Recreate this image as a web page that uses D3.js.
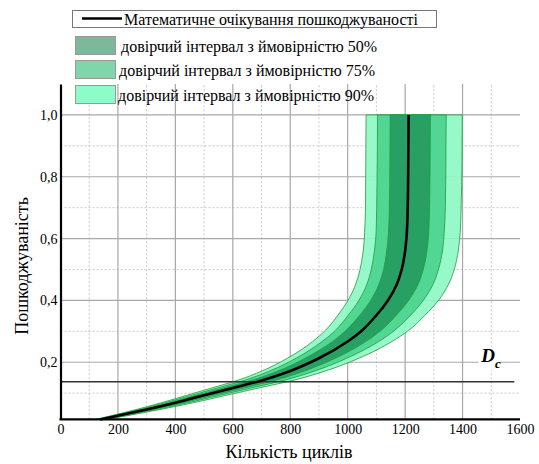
<!DOCTYPE html>
<html>
<head>
<meta charset="utf-8">
<script src="https://cdn.jsdelivr.net/npm/d3@7/dist/d3.min.js"></script>
<style>
  html, body { margin: 0; padding: 0; background: #fff; }
  svg { display: block; }
  svg text { font-family: "Liberation Serif", "Times New Roman", "DejaVu Serif", serif; }
</style>
</head>
<body>
<svg id="chart" width="539" height="464"></svg>
<script>
// Damage levels (y) at which the cycle counts of each curve are tabulated
const damageLevels = [0.015, 0.027, 0.047, 0.069, 0.093, 0.117, 0.141, 0.172, 0.213, 0.267,
                      0.303, 0.352, 0.40, 0.45, 0.50, 0.56, 0.62, 0.70, 0.85, 1.0];
// Expected damage curve: number of cycles at each damage level
const meanCycles = [138, 200, 300, 400, 500, 600, 700, 800, 900, 1000,
                    1050, 1100, 1140, 1170, 1188, 1200, 1206, 1209, 1211, 1212];
// Confidence interval bounds (cycles)
const lower50 = [131, 189, 284, 379, 474, 568, 663, 758, 852, 947, 994, 1042, 1080, 1108, 1125, 1136, 1142, 1145, 1147, 1148];
const upper50 = [147, 213, 319, 425, 532, 638, 744, 850, 957, 1063, 1116, 1169, 1212, 1244, 1263, 1276, 1282, 1285, 1287, 1288];
const lower75 = [126, 182, 273, 364, 456, 547, 638, 729, 820, 911, 957, 1002, 1039, 1066, 1082, 1093, 1099, 1101, 1103, 1104];
const upper75 = [153, 222, 332, 443, 554, 665, 776, 886, 997, 1108, 1163, 1219, 1263, 1296, 1316, 1330, 1336, 1340, 1342, 1343];
const lower90 = [121, 176, 263, 351, 439, 527, 615, 702, 790, 878, 922, 966, 1001, 1027, 1043, 1054, 1059, 1062, 1063, 1064];
const upper90 = [159, 231, 346, 462, 577, 692, 808, 923, 1039, 1154, 1212, 1269, 1316, 1350, 1371, 1385, 1392, 1395, 1398, 1399];

// Critical damage level
const criticalDamage = 0.137;

// Axis ticks
const xTicks = [0, 200, 400, 600, 800, 1000, 1200, 1400, 1600];
const xMinorTicks = [100, 300, 500, 700, 900, 1100, 1300, 1500];
const yTicks = [0.2, 0.4, 0.6, 0.8, 1.0];
const yMinorTicks = [0.1, 0.3, 0.5, 0.7, 0.9];

const xTitle = "Кількість циклів";
const yTitle = "Пошкоджуваність";
const meanLabel = "Математичне очікування пошкоджуваності";
const bandLabels = ["довірчий інтервал з ймовірністю 50%",
                    "довірчий інтервал з ймовірністю 75%",
                    "довірчий інтервал з ймовірністю 90%"];

const SERIF = "Liberation Serif";
const svg = d3.select("#chart");

const x = d3.scaleLinear().domain([0, 1600]).range([60.5, 520]);
const y = d3.scaleLinear().domain([0.0155, 1.1]).range([419.3, 84]);

// Grid
const grid = svg.append("g");
grid.selectAll("line.xmin").data(xMinorTicks).join("line")
  .attr("x1", d => x(d)).attr("x2", d => x(d))
  .attr("y1", y.range()[0]).attr("y2", y.range()[1])
  .attr("stroke", "#c8c8c8").attr("stroke-dasharray", "2,2").attr("stroke-width", 1);
grid.selectAll("line.ymin").data(yMinorTicks).join("line")
  .attr("y1", d => y(d)).attr("y2", d => y(d))
  .attr("x1", x.range()[0]).attr("x2", x.range()[1])
  .attr("stroke", "#c8c8c8").attr("stroke-dasharray", "2,2").attr("stroke-width", 1);
grid.selectAll("line.xmaj").data(xTicks.slice(1, -1)).join("line")
  .attr("x1", d => x(d)).attr("x2", d => x(d))
  .attr("y1", y.range()[0]).attr("y2", y.range()[1])
  .attr("stroke", "#a8a8a8").attr("stroke-width", 1.2);
grid.selectAll("line.ymaj").data(yTicks).join("line")
  .attr("y1", d => y(d)).attr("y2", d => y(d))
  .attr("x1", x.range()[0]).attr("x2", x.range()[1])
  .attr("stroke", "#a8a8a8").attr("stroke-width", 1.2);

// Confidence bands, widest first
const bands = [
  { lo: lower90, hi: upper90, fill: "#8ef8c4" },
  { lo: lower75, hi: upper75, fill: "#4cd28f" },
  { lo: lower50, hi: upper50, fill: "#259b60" }
];
const area = (lo, hi) => d3.area()
  .curve(d3.curveMonotoneY)
  .y((d, i) => y(damageLevels[i]))
  .x0((d, i) => x(lo[i]))
  .x1((d, i) => x(hi[i]));

bands.forEach(b => {
  svg.append("path")
    .datum(damageLevels)
    .attr("d", area(b.lo, b.hi))
    .attr("fill", b.fill)
    .attr("fill-opacity", 0.92)
    .attr("stroke", "#1f9a3a")
    .attr("stroke-width", 0.8);
});

// Critical damage line
svg.append("line")
  .attr("x1", x(0)).attr("x2", x(1580))
  .attr("y1", y(criticalDamage)).attr("y2", y(criticalDamage))
  .attr("stroke", "#333").attr("stroke-width", 1.6);

// Expected damage curve
svg.append("path")
  .datum(damageLevels)
  .attr("d", d3.line()
    .curve(d3.curveMonotoneY)
    .y((d, i) => y(d))
    .x((d, i) => x(meanCycles[i])))
  .attr("fill", "none")
  .attr("stroke", "#000")
  .attr("stroke-width", 2.6);

// D_c label
svg.append("rect")
  .attr("x", x(1455)).attr("y", y(0.2) - 15)
  .attr("width", 22).attr("height", 23).attr("fill", "#fff");
const dc = svg.append("text")
  .attr("x", x(1465)).attr("y", y(0.2))
  .attr("font-family", SERIF)
  .attr("font-size", 19).attr("font-weight", "bold").attr("font-style", "italic");
dc.append("tspan").text("D");
dc.append("tspan").attr("dy", 6).attr("font-size", 13).text("c");

// Axes
const xAxis = d3.axisBottom(x).tickValues(xTicks).tickSize(0).tickPadding(5)
  .tickFormat(d3.format("d"));
svg.append("g").attr("transform", `translate(0,${y.range()[0]})`).call(xAxis)
  .attr("font-family", SERIF).attr("font-size", 14)
  .call(g => g.select(".domain").attr("stroke", "#000").attr("stroke-width", 2.2).attr("d", `M${x(0) - 1},0H${x(1600)}`))
  .call(g => g.selectAll("text").attr("fill", "#000"));

const yAxis = d3.axisLeft(y).tickValues(yTicks).tickSize(0).tickPadding(3)
  .tickFormat(d => d.toFixed(1).replace(".", ","));
svg.append("g").attr("transform", `translate(${x(0)},0)`).call(yAxis)
  .attr("font-family", SERIF).attr("font-size", 14)
  .call(g => g.select(".domain").attr("stroke", "#000").attr("stroke-width", 2.2))
  .call(g => g.selectAll("text").attr("fill", "#000"));

// Axis titles
svg.append("text")
  .attr("x", 289).attr("y", 458)
  .attr("font-family", SERIF)
  .attr("text-anchor", "middle").attr("font-size", 18)
  .text(xTitle);
svg.append("text")
  .attr("transform", "translate(28,266) rotate(-90)")
  .attr("font-family", SERIF)
  .attr("text-anchor", "middle").attr("font-size", 18)
  .text(yTitle);

// Legend
const lg = svg.append("g").attr("font-family", SERIF);
lg.append("rect").attr("x", 72.5).attr("y", 10.5).attr("width", 364).attr("height", 17)
  .attr("fill", "#fff").attr("stroke", "#777").attr("stroke-width", 1);
lg.append("line").attr("x1", 82).attr("x2", 122).attr("y1", 18.5).attr("y2", 18.5)
  .attr("stroke", "#000").attr("stroke-width", 2.4);
lg.append("text").attr("x", 124).attr("y", 24.5).attr("font-size", 16).text(meanLabel);

const swatchColors = ["#7db89a", "#7fd6aa", "#8dfcc8"];
const rowsY = [36, 60, 85];
const textX = [121, 119, 118];
bandLabels.forEach((lab, i) => {
  lg.append("rect").attr("x", 75.5).attr("y", rowsY[i] + 0.5).attr("width", 40).attr("height", 18)
    .attr("fill", swatchColors[i]).attr("stroke", "#999").attr("stroke-width", 1);
  lg.append("text").attr("x", textX[i]).attr("y", rowsY[i] + 15.5).attr("font-size", 16).text(lab);
});
</script>
</body>
</html>
